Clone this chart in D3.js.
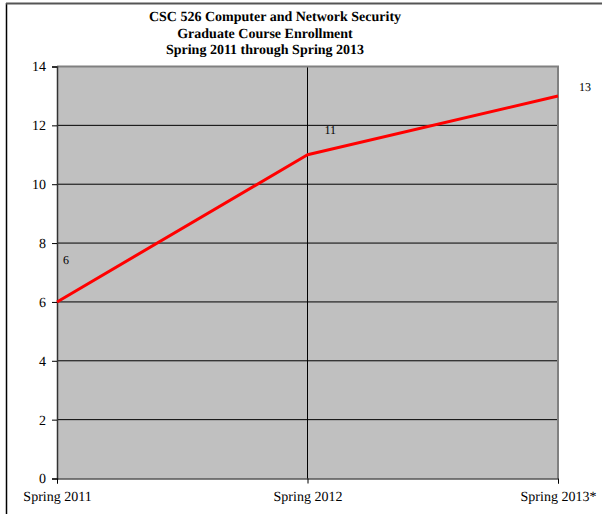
<!DOCTYPE html>
<html>
<head>
<meta charset="utf-8">
<script src="https://cdn.jsdelivr.net/npm/d3@7"></script>
<style>
  html, body { margin: 0; padding: 0; background: #fff; }
  svg { display: block; text-rendering: geometricPrecision; }
  text { font-family: "Liberation Serif", "Times New Roman", serif; fill: #000; }
</style>
</head>
<body>
<svg id="chart" width="602" height="514"></svg>
<script>
// Enrollment per term
const terms = ["Spring 2011", "Spring 2012", "Spring 2013*"];
const enrollment = [6, 11, 13];
const yTicks = [0, 2, 4, 6, 8, 10, 12, 14];
const titleLines = [
  "CSC 526 Computer and Network Security",
  "Graduate Course Enrollment",
  "Spring 2011 through Spring 2013"
];

const svg = d3.select("#chart");
const plot = { left: 57, right: 558, top: 66.5, bottom: 478.5 };

const x = d3.scalePoint().domain(terms).range([plot.left, plot.right]);
const y = d3.scaleLinear().domain([0, 14]).range([plot.bottom, plot.top]);

// outer frame (left and top edges)
svg.append("line").attr("x1", 6.5).attr("x2", 6.5).attr("y1", 3).attr("y2", 514)
  .attr("stroke", "#000").attr("stroke-width", 1.5);
svg.append("line").attr("x1", 6).attr("x2", 602).attr("y1", 3.5).attr("y2", 3.5)
  .attr("stroke", "#555").attr("stroke-width", 2);

// title
const titleX = [275, 265, 265];
svg.append("g").selectAll("text").data(titleLines).join("text")
  .attr("x", (d, i) => titleX[i])
  .attr("y", (d, i) => 21 + i * 16.5)
  .attr("text-anchor", "middle")
  .attr("font-size", "14px")
  .attr("font-weight", "bold")
  .attr("fill", "#000")
  .text(d => d);

// plot background
svg.append("rect")
  .attr("x", plot.left).attr("y", plot.top)
  .attr("width", plot.right - plot.left).attr("height", plot.bottom - plot.top)
  .attr("fill", "#c0c0c0");

// horizontal gridlines
svg.append("g").selectAll("line").data(yTicks.filter(t => t > 0 && t < 14)).join("line")
  .attr("x1", plot.left).attr("x2", plot.right)
  .attr("y1", d => y(d)).attr("y2", d => y(d))
  .attr("stroke", "#000").attr("stroke-width", 1);

// vertical gridline at the middle category
svg.append("line")
  .attr("x1", x(terms[1])).attr("x2", x(terms[1]))
  .attr("y1", plot.top).attr("y2", plot.bottom)
  .attr("stroke", "#000").attr("stroke-width", 1);

// plot border: top and right in gray
svg.append("path")
  .attr("d", `M${plot.left},${plot.top}H${plot.right}V${plot.bottom}`)
  .attr("fill", "none").attr("stroke", "#808080").attr("stroke-width", 2);

// y axis
const yAxis = svg.append("g")
  .attr("transform", `translate(${plot.left},0)`)
  .call(d3.axisLeft(y).tickValues(yTicks).tickSize(5).tickPadding(6).tickFormat(d3.format("d")));
yAxis.select(".domain").attr("stroke", "#333").attr("stroke-width", 1.5);
yAxis.selectAll(".tick line").attr("stroke", "#000");
yAxis.selectAll("text").attr("font-size", "14px").attr("fill", "#000")
  .attr("font-family", "Liberation Serif, Times New Roman, serif");

// x axis
const xAxis = svg.append("g")
  .attr("transform", `translate(0,${plot.bottom})`)
  .call(d3.axisBottom(x).tickSize(5).tickPadding(8));
xAxis.select(".domain").attr("stroke", "#000").attr("stroke-width", 1);
xAxis.selectAll(".tick line").attr("stroke", "#000");
xAxis.selectAll("text").attr("font-size", "14px").attr("fill", "#000")
  .attr("font-family", "Liberation Serif, Times New Roman, serif");

// enrollment line
const series = terms.map((t, i) => ({ term: t, value: enrollment[i] }));
svg.append("path")
  .datum(series)
  .attr("fill", "none")
  .attr("stroke", "#ff0000")
  .attr("stroke-width", 3)
  .attr("stroke-linejoin", "round")
  .attr("d", d3.line().x(d => x(d.term)).y(d => y(d.value)));

// value labels
const labelDx = [6, 17, 21];
const labelDy = [-38, -21, -5];
svg.append("g").selectAll("text").data(series).join("text")
  .attr("x", (d, i) => x(d.term) + labelDx[i])
  .attr("y", (d, i) => y(d.value) + labelDy[i])
  .attr("font-size", "12px")
  .attr("fill", "#000")
  .text(d => d.value);
</script>
</body>
</html>
